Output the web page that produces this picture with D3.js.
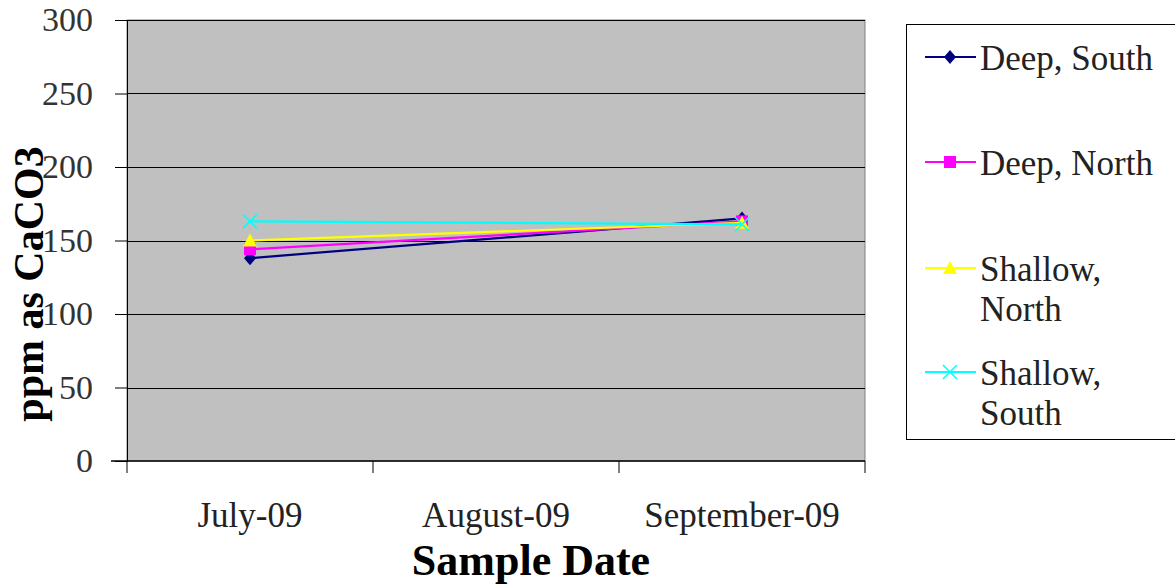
<!DOCTYPE html>
<html>
<head>
<meta charset="utf-8">
<script src="https://cdn.jsdelivr.net/npm/d3@7"></script>
<style>
  body { margin: 0; background: #fff; }
  svg { display: block; font-family: 'Liberation Serif', 'Times New Roman', serif; }
</style>
</head>
<body>
<svg id="chart" width="1175" height="587"></svg>
<script>
// categories and series (August has no sample)
const dates = ['July-09', 'August-09', 'September-09'];
const deepSouth = [138, null, 165];
const deepNorth = [144, null, 163];
const shallowNorth = [150, null, 162];
const shallowSouth = [163, null, 161];
const yTicks = [0, 50, 100, 150, 200, 250, 300];

const series = [
  {name: ['Deep, South'], values: deepSouth, color: '#000080', marker: 'diamond'},
  {name: ['Deep, North'], values: deepNorth, color: '#FF00FF', marker: 'square'},
  {name: ['Shallow,', 'North'], values: shallowNorth, color: '#FFFF00', marker: 'triangle'},
  {name: ['Shallow,', 'South'], values: shallowSouth, color: '#00FFFF', marker: 'x'}
];

const margin = {top: 20, left: 127, right: 310, bottom: 126};
const width = 1175 - margin.left - margin.right;
const height = 587 - margin.top - margin.bottom;

const svg = d3.select('#chart');

// y axis title (drawn first so tick labels sit on top)
svg.append('text')
  .attr('transform', 'translate(43,' + 284 + ') rotate(-90)')
  .attr('text-anchor', 'middle')
  .attr('font-size', 42).attr('font-weight', 'bold')
  .text('ppm as CaCO3');

const g = svg.append('g').attr('transform', 'translate(' + margin.left + ',' + margin.top + ')');

const x = d3.scaleBand().domain(dates).range([0, width]).padding(0);
const y = d3.scaleLinear().domain([0, 300]).range([height, 0]);
const cx = d => x(d) + x.bandwidth() / 2;

// plot area
g.append('rect')
  .attr('width', width).attr('height', height)
  .attr('fill', '#C0C0C0')
  .attr('stroke', '#808080').attr('stroke-width', 1);

// gridlines
g.selectAll('.grid')
  .data(yTicks.slice(1))
  .enter().append('line')
  .attr('x1', 0).attr('x2', width)
  .attr('y1', d => Math.round(y(d)) + 0.5).attr('y2', d => Math.round(y(d)) + 0.5)
  .attr('stroke', '#000').attr('stroke-width', 1);

// y axis
const yAxis = g.append('g')
  .call(d3.axisLeft(y).tickValues(yTicks).tickSize(12).tickPadding(22));
yAxis.attr('font-family', null).attr('font-size', null);
yAxis.select('.domain').attr('stroke', '#000');
yAxis.selectAll('text').attr('font-size', 34).attr('fill', '#333');

// x axis: ticks at category boundaries
const xAxis = g.append('g').attr('transform', 'translate(0,' + height + ')');
xAxis.append('line').attr('x1', -16).attr('x2', width).attr('stroke', '#000').attr('stroke-width', 1.5);
const bounds = dates.map(d => x(d)).concat([width]);
xAxis.selectAll('.xt')
  .data(bounds)
  .enter().append('line')
  .attr('x1', d => d).attr('x2', d => d)
  .attr('y1', 0).attr('y2', 12)
  .attr('stroke', '#000');
xAxis.selectAll('.xl')
  .data(dates)
  .enter().append('text')
  .attr('x', d => cx(d))
  .attr('y', 66)
  .attr('text-anchor', 'middle')
  .attr('font-size', 35)
  .attr('fill', '#222')
  .text(d => d);

// x axis title (sits a bit right of the plot centre in the original)
g.append('text')
  .attr('x', width / 2 + 35).attr('y', height + 114)
  .attr('text-anchor', 'middle')
  .attr('font-size', 44).attr('font-weight', 'bold')
  .text('Sample Date');

// markers
function drawMarker(sel, type, color) {
  if (type === 'diamond') {
    sel.append('path').attr('d', 'M0,-7L6,0L0,7L-6,0Z').attr('fill', color);
  } else if (type === 'square') {
    sel.append('rect').attr('x', -6).attr('y', -6).attr('width', 12).attr('height', 12).attr('fill', color);
  } else if (type === 'triangle') {
    sel.append('path').attr('d', 'M0,-7L7,6L-7,6Z').attr('fill', color);
  } else {
    sel.append('path').attr('d', 'M-7,-7L7,7M-7,7L7,-7').attr('stroke', color).attr('stroke-width', 1.5);
  }
}

const line = d3.line().x(d => cx(d.date)).y(d => y(d.v));

series.forEach(s => {
  const pts = dates.map((d, i) => ({date: d, v: s.values[i]})).filter(p => p.v != null);
  g.append('path')
    .datum(pts)
    .attr('d', line)
    .attr('fill', 'none')
    .attr('stroke', s.color)
    .attr('stroke-width', 2.2);
  pts.forEach(p => {
    const m = g.append('g').attr('transform', 'translate(' + cx(p.date) + ',' + y(p.v) + ')');
    drawMarker(m, s.marker, s.color);
  });
});

// legend
const legend = svg.append('g');
legend.append('rect')
  .attr('x', 906.5).attr('y', 24.5).attr('width', 280).attr('height', 415)
  .attr('fill', '#fff').attr('stroke', '#000');

const legendY = [57, 162, 268, 372];
series.forEach((s, i) => {
  const ly = legendY[i];
  const lg = legend.append('g');
  lg.append('line').attr('x1', 925).attr('x2', 976).attr('y1', ly).attr('y2', ly)
    .attr('stroke', s.color).attr('stroke-width', 2);
  const m = lg.append('g').attr('transform', 'translate(950,' + ly + ')');
  drawMarker(m, s.marker, s.color);
  s.name.forEach((t, j) => {
    lg.append('text')
      .attr('x', 980).attr('y', ly + 13 + j * 40)
      .attr('font-size', 35)
      .attr('fill', '#222')
      .text(t);
  });
});
</script>
</body>
</html>
